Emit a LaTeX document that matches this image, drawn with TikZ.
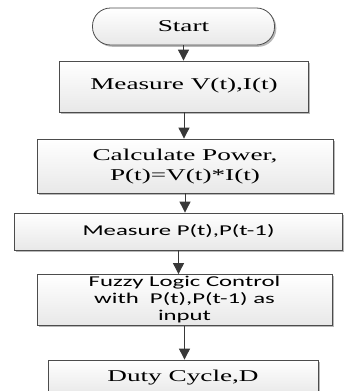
\documentclass[tikz,border=0pt]{standalone}
\usepackage{fontspec}
\setmainfont{Liberation Serif}
\newfontfamily\calibri{Carlito}
\usetikzlibrary{positioning}
\usetikzlibrary{arrows.meta}
\usetikzlibrary{shadows}
\newcommand{\wide}[1]{\scalebox{1.65}[1]{#1}}

\begin{document}
\begin{tikzpicture}[x=1pt,y=-1pt,
    flowbox/.style={draw=black!70, line width=0.8pt, top color=white, bottom color=black!9,
      drop shadow={shadow xshift=1.8pt, shadow yshift=-1.8pt, fill=black!35, opacity=0.8},
      inner sep=0pt, align=center},
    serif text/.style={font=\fontsize{16.5}{20}\selectfont},
    sans text/.style={font=\calibri\fontsize{15}{17}\selectfont},
    flowarrow/.style={draw=black!78, line width=0.9pt, -{Triangle[width=11pt,length=11pt]}}]
    \useasboundingbox (0,0) rectangle (344,391);

    \node[flowbox, serif text, rounded corners=18pt, minimum width=182pt, minimum height=37pt]
      (start) at (183.5,26.5) {\wide{Start}};

    \node[flowbox, serif text, minimum width=249pt, minimum height=51pt]
      (measurevi) at (184,86.5) {\raisebox{6pt}{\wide{Measure V(t),I(t)}}};

    \node[flowbox, serif text, minimum width=296pt, minimum height=54pt]
      (calcpower) at (185,166)
      {\wide{\begin{tabular}{@{}c@{}}Calculate Power,\\P(t)=V(t)*I(t)\end{tabular}}};

    \node[flowbox, sans text, minimum width=328pt, minimum height=37pt]
      (measurep) at (178.5,231.5) {\wide{Measure P(t),P(t-1)}};

    \node[flowbox, sans text, minimum width=295pt, minimum height=50pt]
      (fuzzy) at (184.5,300)
      {\wide{\begin{tabular}{@{}c@{}}Fuzzy Logic Control\\with\ \ P(t),P(t-1) as\\input\end{tabular}}};

    \node[flowbox, serif text, minimum width=270pt, minimum height=35pt]
      (duty) at (183,377.5) {\wide{Duty Cycle,D}};

    % connectors
    \foreach \a/\b in {start/measurevi, measurevi/calcpower, calcpower/measurep,
                       measurep/fuzzy, fuzzy/duty}
    \draw[flowarrow] (\a.south) -- (\a.south |- \b.north);

  \end{tikzpicture}
\end{document}
